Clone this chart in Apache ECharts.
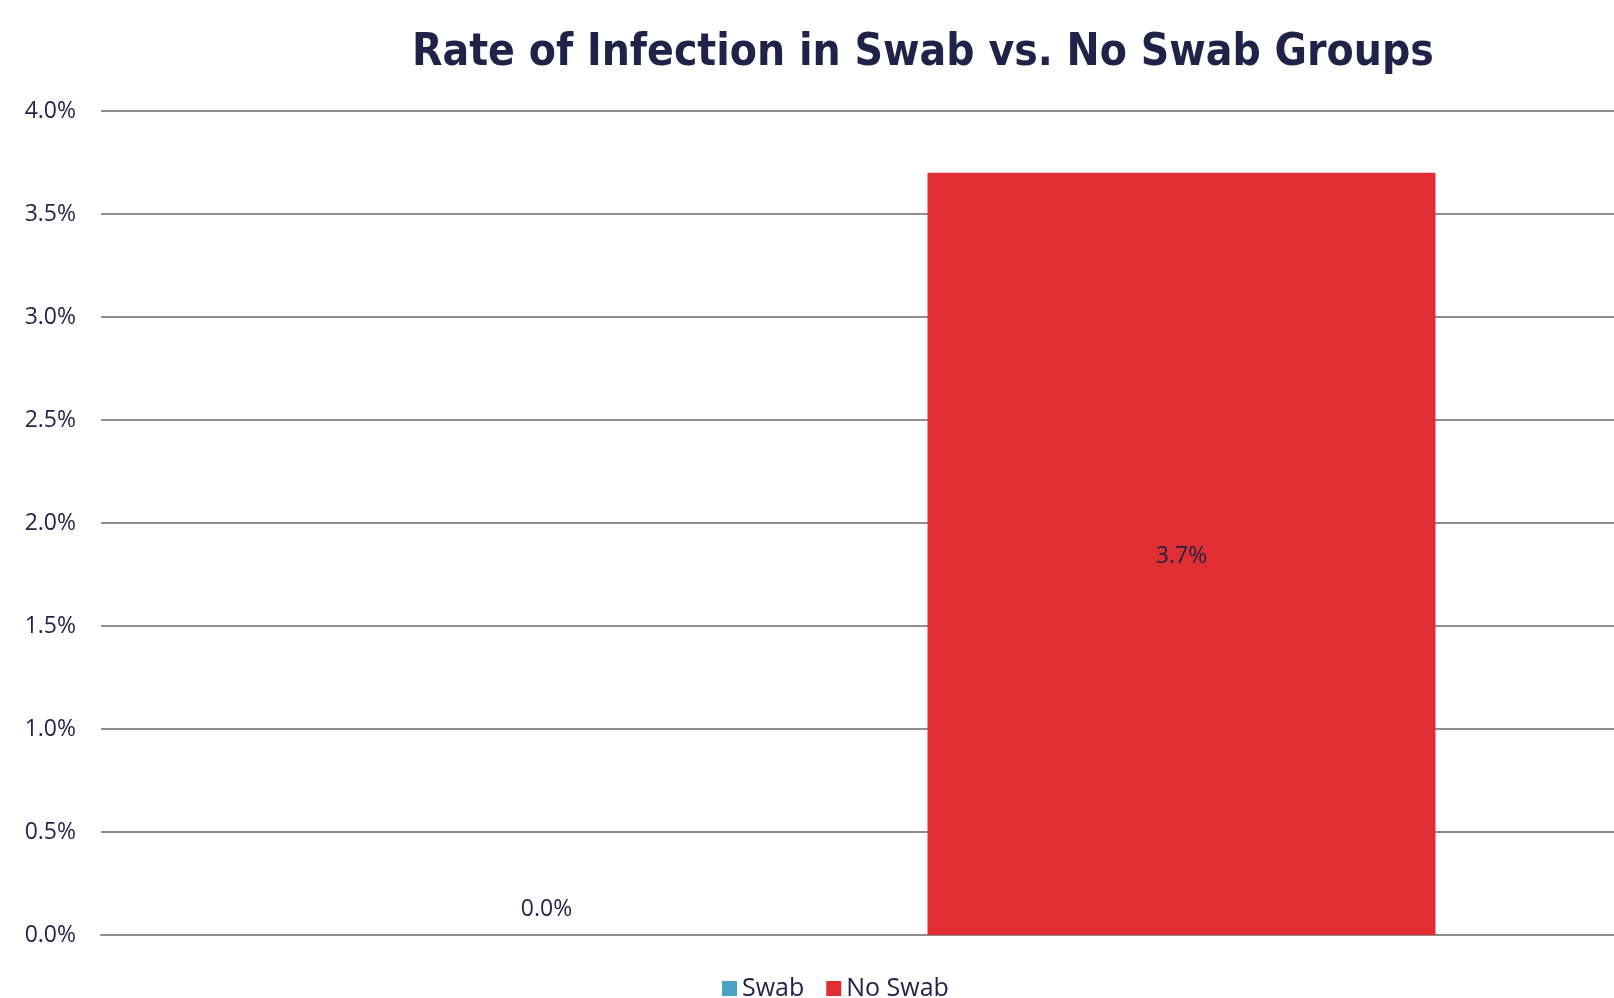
<!DOCTYPE html>
<html>
<head>
<meta charset="utf-8">
<script src="https://cdn.jsdelivr.net/npm/echarts@6/dist/echarts.min.js"></script>
<style>
  html, body { margin: 0; padding: 0; background: #fff; }
  #chart { width: 1614px; height: 998px; }
</style>
</head>
<body>
<div id="chart"></div>
<script>
// Data
const categories = ['Infection'];
const seriesNames = ['Swab', 'No Swab'];
const swabValues = [0.0];
const noSwabValues = [3.7];
const yTicks = [0, 0.5, 1, 1.5, 2, 2.5, 3, 3.5, 4];

const NAVY = '#1e2347';
const FONT = '"Open Sans", "DejaVu Sans", sans-serif';

const chart = echarts.init(document.getElementById('chart'), null, { renderer: 'canvas' });

chart.setOption({
    animation: false,
    backgroundColor: '#ffffff',
    title: {
        text: 'Rate of Infection in Swab vs. No Swab Groups',
        left: 407,
        top: 27,
        textStyle: {
            color: NAVY,
            fontSize: 44,
            fontWeight: 'bold',
            fontFamily: '"DejaVu Sans Condensed", sans-serif',
        },
    },
    legend: {
        data: seriesNames,
        bottom: -8,
        left: 717,
        itemWidth: 15,
        itemHeight: 15,
        itemGap: 22,
        icon: 'rect',
        textStyle: { color: NAVY, fontSize: 25, fontFamily: FONT },
    },
    // plot area runs a little past the right edge of the picture
    grid: { left: 101, top: 111, width: 1526, height: 824, outerBoundsMode: 'none', containLabel: false },
    xAxis: {
        type: 'category',
        data: categories,
        axisLine: { show: true, lineStyle: { color: '#8e8e92', width: 2 } },
        axisTick: { show: false },
        axisLabel: { show: false },
    },
    yAxis: {
        type: 'value',
        min: yTicks[0],
        max: yTicks[yTicks.length - 1],
        interval: 0.5,
        axisLine: { show: false },
        axisTick: { show: false },
        axisLabel: {
            color: NAVY,
            fontSize: 23,
            fontFamily: FONT,
            margin: 25,
            formatter: v => v.toFixed(1) + '%',
        },
        splitLine: { lineStyle: { color: '#8e8e92', width: 2 } },
    },
    series: [
        {
            name: seriesNames[0],
            type: 'bar',
            data: swabValues,
            barWidth: 508,
            barGap: '25%',
            itemStyle: { color: '#4aa3c7' },
            label: {
                show: true,
                position: 'top',
                distance: 14,
                color: NAVY,
                fontSize: 23,
                fontFamily: FONT,
                formatter: p => p.value.toFixed(1) + '%',
            },
        },
        {
            name: seriesNames[1],
            type: 'bar',
            data: noSwabValues,
            barWidth: 508,
            itemStyle: { color: '#e12e32' },
            label: {
                show: true,
                position: 'inside',
                offset: [0, 3],
                color: NAVY,
                fontSize: 23,
                fontFamily: FONT,
                formatter: p => p.value.toFixed(1) + '%',
            },
        },
    ],
});
</script>
</body>
</html>
